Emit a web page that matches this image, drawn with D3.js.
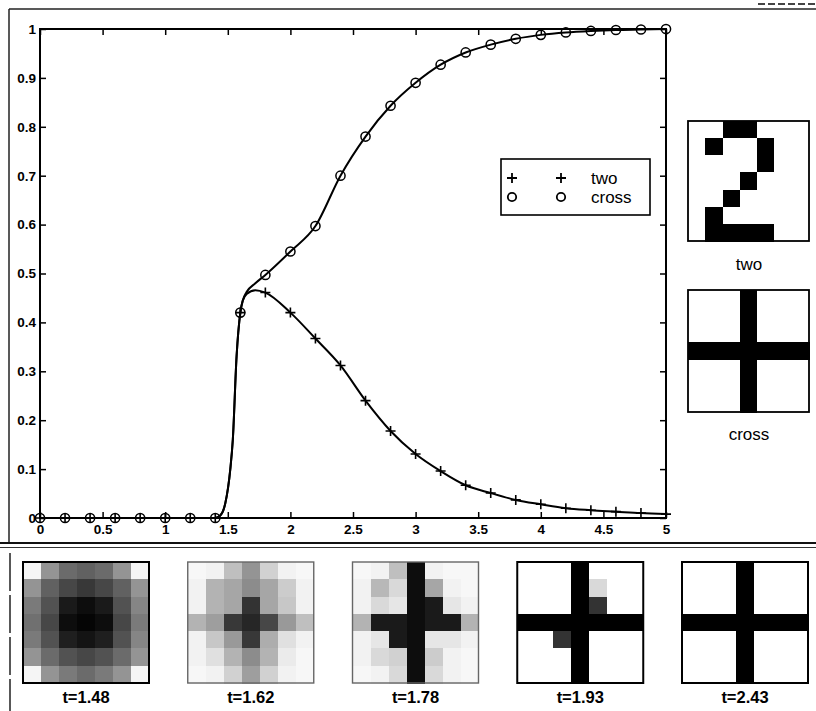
<!DOCTYPE html>
<html>
<head>
<meta charset="utf-8">
<script src="https://cdn.jsdelivr.net/npm/d3@7"></script>
<style>
  body { margin: 0; background: #fff; }
  svg { display: block; font-family: "Liberation Sans", Arial, Helvetica, sans-serif; }
</style>
</head>
<body>
<div id="chart"></div>
<script>
// marker samples (t = 0, 0.2, ... 5)
const markT = [0, 0.2, 0.4, 0.6, 0.8, 1.0, 1.2, 1.4, 1.6, 1.8, 2.0, 2.2, 2.4, 2.6, 2.8, 3.0, 3.2, 3.4, 3.6, 3.8, 4.0, 4.2, 4.4, 4.6, 4.8, 5.0];
const twoMarks = [0, 0, 0, 0, 0, 0, 0, 0, 0.42, 0.461, 0.42, 0.367, 0.312, 0.24, 0.178, 0.131, 0.096, 0.067, 0.051, 0.037, 0.028, 0.02, 0.016, 0.013, 0.01, 0.008];
const crossMarks = [0, 0, 0, 0, 0, 0, 0, 0, 0.42, 0.497, 0.545, 0.597, 0.70, 0.78, 0.843, 0.89, 0.927, 0.952, 0.968, 0.98, 0.988, 0.993, 0.996, 0.998, 0.999, 1.0];

// the solid curves, read a bit denser around the jump
const curveT = [0, 1.4, 1.44, 1.48, 1.52, 1.54, 1.57, 1.6, 1.62, 1.65, 1.72, 1.8, 2.0, 2.2, 2.4, 2.6, 2.8, 3.0, 3.2, 3.4, 3.6, 3.8, 4.0, 4.2, 4.4, 4.6, 4.8, 5.0];
const twoCurve = [0, 0, 0.005, 0.03, 0.1, 0.16, 0.33, 0.42, 0.445, 0.458, 0.466, 0.461, 0.42, 0.367, 0.312, 0.24, 0.178, 0.131, 0.096, 0.067, 0.051, 0.037, 0.028, 0.02, 0.016, 0.013, 0.01, 0.008];
const crossCurve = [0, 0, 0.005, 0.03, 0.1, 0.16, 0.33, 0.42, 0.445, 0.462, 0.48, 0.497, 0.545, 0.597, 0.70, 0.78, 0.843, 0.89, 0.927, 0.952, 0.968, 0.98, 0.988, 0.993, 0.996, 0.998, 0.999, 1.0];

const xTicks = [0, 0.5, 1, 1.5, 2, 2.5, 3, 3.5, 4, 4.5, 5];
const yTicks = [0, 0.1, 0.2, 0.3, 0.4, 0.5, 0.6, 0.7, 0.8, 0.9, 1];
const legendNames = ["two", "cross"];

// 7x7 patterns, 1 = black
const twoGlyph = [
  0, 0, 1, 1, 0, 0, 0,
  0, 1, 0, 0, 1, 0, 0,
  0, 0, 0, 0, 1, 0, 0,
  0, 0, 0, 1, 0, 0, 0,
  0, 0, 1, 0, 0, 0, 0,
  0, 1, 0, 0, 0, 0, 0,
  0, 1, 1, 1, 1, 0, 0
];
const crossGlyph = [
  0, 0, 0, 1, 0, 0, 0,
  0, 0, 0, 1, 0, 0, 0,
  0, 0, 0, 1, 0, 0, 0,
  1, 1, 1, 1, 1, 1, 1,
  0, 0, 0, 1, 0, 0, 0,
  0, 0, 0, 1, 0, 0, 0,
  0, 0, 0, 1, 0, 0, 0
];

// states of the net at some times
const stateLabels = ["t=1.48", "t=1.62", "t=1.78", "t=1.93", "t=2.43"];
const state148 = [
  0.04, 0.42, 0.58, 0.62, 0.58, 0.42, 0.04,
  0.42, 0.62, 0.72, 0.78, 0.72, 0.62, 0.42,
  0.52, 0.68, 0.9, 0.95, 0.9, 0.68, 0.48,
  0.56, 0.72, 0.95, 0.98, 0.95, 0.72, 0.52,
  0.52, 0.68, 0.88, 0.92, 0.88, 0.68, 0.48,
  0.42, 0.58, 0.68, 0.72, 0.68, 0.58, 0.42,
  0.04, 0.42, 0.52, 0.58, 0.52, 0.42, 0.04
];
const state162 = [
  0.03, 0.05, 0.25, 0.42, 0.18, 0.05, 0.03,
  0.05, 0.3, 0.35, 0.45, 0.35, 0.2, 0.05,
  0.05, 0.3, 0.35, 0.8, 0.35, 0.22, 0.05,
  0.3, 0.38, 0.78, 0.85, 0.72, 0.4, 0.25,
  0.05, 0.22, 0.4, 0.78, 0.32, 0.12, 0.05,
  0.05, 0.12, 0.3, 0.45, 0.3, 0.08, 0.03,
  0.03, 0.05, 0.18, 0.38, 0.18, 0.05, 0.03
];
const state178 = [
  0.03, 0.05, 0.25, 0.95, 0.05, 0.03, 0.03,
  0.05, 0.28, 0.15, 0.95, 0.35, 0.05, 0.03,
  0.05, 0.15, 0.1, 0.95, 0.9, 0.1, 0.05,
  0.3, 0.9, 0.9, 0.95, 0.9, 0.9, 0.3,
  0.05, 0.1, 0.9, 0.95, 0.1, 0.1, 0.05,
  0.05, 0.15, 0.18, 0.95, 0.2, 0.05, 0.03,
  0.03, 0.05, 0.15, 0.95, 0.15, 0.05, 0.03
];
const state193 = [
  0, 0, 0, 1, 0, 0, 0,
  0, 0, 0, 1, 0.15, 0, 0,
  0, 0, 0, 1, 0.8, 0, 0,
  1, 1, 1, 1, 1, 1, 1,
  0, 0, 0.8, 1, 0, 0, 0,
  0, 0, 0, 1, 0, 0, 0,
  0, 0, 0, 1, 0, 0, 0
];
const state243 = crossGlyph;
const stateCells = [state148, state162, state178, state193, state243];

const W = 816, H = 711;
const svg = d3.select("#chart").append("svg")
    .attr("width", W)
    .attr("height", H);

// SCALES
const xs = d3.scaleLinear().domain([0, 5]).range([40, 666]);
const ys = d3.scaleLinear().domain([0, 1]).range([518, 29]);
const fmt = d3.format("~g");

// page frame
svg.append("line").attr("x1", 9).attr("x2", 816).attr("y1", 9).attr("y2", 9)
    .attr("stroke", "#222").attr("stroke-width", 1.5);
svg.append("line").attr("x1", 9).attr("x2", 9).attr("y1", 9).attr("y2", 543)
    .attr("stroke", "#222").attr("stroke-width", 1.5);
svg.append("line").attr("x1", 0).attr("x2", 816).attr("y1", 543).attr("y2", 543)
    .attr("stroke", "#111").attr("stroke-width", 2);
svg.append("line").attr("x1", 0).attr("x2", 816).attr("y1", 547.5).attr("y2", 547.5)
    .attr("stroke", "#333").attr("stroke-width", 1.2);
svg.append("line").attr("x1", 10).attr("x2", 10).attr("y1", 553).attr("y2", 711)
    .attr("stroke", "#222").attr("stroke-width", 1.5).attr("stroke-dasharray", "38,4");
svg.append("line").attr("x1", 758).attr("x2", 815).attr("y1", 4).attr("y2", 4)
    .attr("stroke", "#444").attr("stroke-width", 2).attr("stroke-dasharray", "7,3");

// AXES (ticks point inward)
const [x0, x1] = xs.range();
const [y0, y1] = ys.range();

const axisStyle = g => {
    g.select(".domain").remove();
    g.selectAll(".tick line").attr("stroke", "#000").attr("stroke-width", 1.5);
    g.selectAll("text").attr("fill", "#000").style("font-size", "13.5px").style("font-weight", "bold");
};

svg.append("g").attr("transform", `translate(0,${y0})`)
    .call(d3.axisBottom(xs).tickValues(xTicks).tickFormat(fmt).tickSizeInner(-6).tickSizeOuter(0).tickPadding(6))
    .call(axisStyle);
svg.append("g").attr("transform", `translate(0,${y1})`)
    .call(d3.axisTop(xs).tickValues(xTicks).tickFormat("").tickSizeInner(-6).tickSizeOuter(0))
    .call(axisStyle);
svg.append("g").attr("transform", `translate(${x0},0)`)
    .call(d3.axisLeft(ys).tickValues(yTicks).tickFormat(fmt).tickSizeInner(-6).tickSizeOuter(0).tickPadding(4))
    .call(axisStyle);
svg.append("g").attr("transform", `translate(${x1},0)`)
    .call(d3.axisRight(ys).tickValues(yTicks).tickFormat("").tickSizeInner(-6).tickSizeOuter(0))
    .call(axisStyle);

svg.append("rect")
    .attr("x", x0).attr("y", y1)
    .attr("width", x1 - x0).attr("height", y0 - y1)
    .attr("fill", "none").attr("stroke", "#000").attr("stroke-width", 2);

// CURVES
const line = d3.line()
    .x(d => xs(d[0]))
    .y(d => ys(d[1]))
    .curve(d3.curveMonotoneX);

svg.append("path")
    .datum(curveT.map((t, i) => [t, twoCurve[i]]))
    .attr("d", line)
    .attr("fill", "none").attr("stroke", "#000").attr("stroke-width", 2);
svg.append("path")
    .datum(curveT.map((t, i) => [t, crossCurve[i]]))
    .attr("d", line)
    .attr("fill", "none").attr("stroke", "#000").attr("stroke-width", 2);

// MARKERS
const plusPath = "M-5,0H5M0,-5V5";
svg.append("g").selectAll("path")
    .data(markT.map((t, i) => [t, twoMarks[i]]))
    .join("path")
    .attr("transform", d => `translate(${xs(d[0])},${ys(d[1])})`)
    .attr("d", plusPath)
    .attr("stroke", "#000").attr("stroke-width", 1.6);
svg.append("g").selectAll("circle")
    .data(markT.map((t, i) => [t, crossMarks[i]]))
    .join("circle")
    .attr("cx", d => xs(d[0]))
    .attr("cy", d => ys(d[1]))
    .attr("r", 4.6)
    .attr("fill", "none").attr("stroke", "#000").attr("stroke-width", 1.5);

// LEGEND
const legend = svg.append("g");
legend.append("rect")
    .attr("x", 501).attr("y", 159).attr("width", 149).attr("height", 56)
    .attr("fill", "#fff").attr("stroke", "#000").attr("stroke-width", 1.6);
legendNames.forEach((name, i) => {
    const cy = 178 + i * 19;
    [512, 561].forEach(cx => {
        if (i === 0) {
            legend.append("path").attr("transform", `translate(${cx},${cy})`)
                .attr("d", plusPath).attr("stroke", "#000").attr("stroke-width", 1.8);
        } else {
            legend.append("circle").attr("cx", cx).attr("cy", cy).attr("r", 4.2)
                .attr("fill", "none").attr("stroke", "#000").attr("stroke-width", 1.8);
        }
    });
    legend.append("text")
        .attr("x", 591).attr("y", cy + 6)
        .style("font-size", "17px")
        .text(name);
});

// PATTERN BOXES
function drawGrid(x, y, w, h, cells, border, borderW) {
    const g = svg.append("g").attr("transform", `translate(${x},${y})`);
    const cx = d3.scaleBand().domain(d3.range(7)).range([0, w]);
    const cy = d3.scaleBand().domain(d3.range(7)).range([0, h]);
    const shade = d3.scaleLinear().domain([0, 1]).range(["#ffffff", "#000000"]);
    g.selectAll("rect.cell")
        .data(cells)
        .join("rect")
        .attr("class", "cell")
        .attr("x", (d, i) => cx(i % 7))
        .attr("y", (d, i) => cy(Math.floor(i / 7)))
        .attr("width", cx.bandwidth() + 0.6)
        .attr("height", cy.bandwidth() + 0.6)
        .attr("shape-rendering", "crispEdges")
        .attr("fill", d => shade(d));
    g.append("rect")
        .attr("width", w).attr("height", h)
        .attr("fill", "none").attr("stroke", border).attr("stroke-width", borderW);
}

drawGrid(688, 121, 121, 120, twoGlyph, "#000", 1.8);
drawGrid(688, 290, 121, 122, crossGlyph, "#000", 1.8);
svg.append("text").attr("x", 749).attr("y", 270).attr("text-anchor", "middle")
    .style("font-size", "17px").text("two");
svg.append("text").attr("x", 749).attr("y", 440).attr("text-anchor", "middle")
    .style("font-size", "17px").text("cross");

const panelX = d3.scalePoint().domain(stateLabels).range([23, 682]);
const panelBorder = ["#000", "#666", "#666", "#000", "#000"];
stateLabels.forEach((lab, i) => {
    const px = panelX(lab);
    drawGrid(px, 562, 126, 121, stateCells[i], panelBorder[i], i === 1 || i === 2 ? 1.4 : 2);
    svg.append("text")
        .attr("x", px + 63).attr("y", 703)
        .attr("text-anchor", "middle")
        .style("font-size", "16.5px").style("font-weight", "bold")
        .text(lab);
});
</script>
</body>
</html>
